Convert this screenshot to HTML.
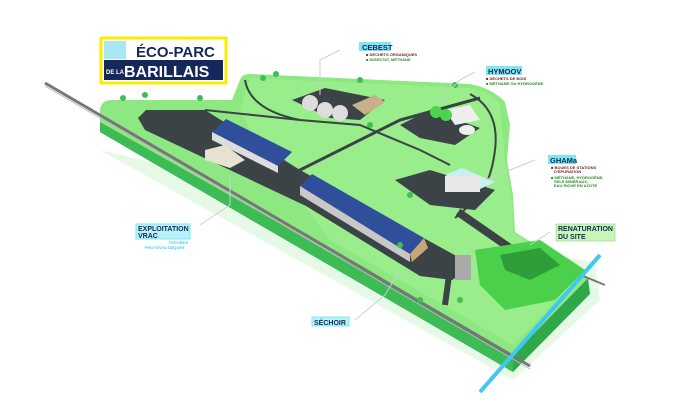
<!DOCTYPE html>
<html><head><meta charset="utf-8"><style>
html,body{margin:0;padding:0;background:#fff}
svg{display:block}
text{font-family:"Liberation Sans",sans-serif;font-weight:bold}
</style></head><body>
<svg width="700" height="400" viewBox="0 0 700 400" xmlns="http://www.w3.org/2000/svg">
<polygon points="100,150 513,380 600,300 595,262 520,250" fill="#e6f8e6"/>
<polygon points="100,112 100,132 513,372 590,294 588,278 513,355" fill="#2fa84a"/>
<polygon points="100,118 100,132 513,372 513,360" fill="#3dbb55"/>
<path d="M112,100 L232,100 L240,80 Q242,74 250,74 L470,84 Q492,88 505,102 L510,125 L507,160 L513,195 L515,232 L588,278 L513,355 L100,122 L100,112 Q100,100 112,100 Z" fill="#8ee882"/>
<path d="M250,78 L470,88 Q490,92 500,104 L505,160 L512,200 L513,232 L580,276 L513,345 L330,240 L300,200 L260,150 L240,110 Z" fill="#9ef08e" opacity="0.7"/>
<line x1="45" y1="83" x2="530" y2="366" stroke="#777" stroke-width="3"/>
<line x1="45" y1="86" x2="530" y2="369" stroke="#bbb" stroke-width="1"/>
<line x1="513" y1="247" x2="605" y2="285" stroke="#777" stroke-width="2"/>
<line x1="600" y1="255" x2="480" y2="392" stroke="#3fc9f2" stroke-width="4"/>
<polygon points="138,118 146,110 205,110 300,170 460,258 470,268 452,280 420,276 306,206 145,130" fill="#3b4346"/>
<path d="M245,80 Q250,110 300,120 L360,125 L420,150 L450,165" fill="none" stroke="#3b4346" stroke-width="2"/>
<path d="M205,110 L300,120" stroke="#3b4346" stroke-width="2"/>
<path d="M290,175 L400,120 L480,98" stroke="#3b4346" stroke-width="3" fill="none"/>
<path d="M470,94 Q500,110 495,150 Q490,190 470,205 L455,218" stroke="#3b4346" stroke-width="2" fill="none"/>
<path d="M450,268 L445,305" stroke="#3b4346" stroke-width="6"/>
<path d="M458,212 L520,255" stroke="#3b4346" stroke-width="8"/>
<polygon points="292,100 325,88 385,100 360,120 330,118" fill="#3b4346"/>
<circle cx="310" cy="103" r="8" fill="#ddd"/><circle cx="325" cy="110" r="8" fill="#ddd"/>
<circle cx="340" cy="113" r="8" fill="#ddd"/>
<polygon points="352,105 375,95 385,102 365,115" fill="#c9b08a"/>
<polygon points="400,125 430,110 480,128 455,145 420,138" fill="#3b4346"/>
<polygon points="445,110 470,105 480,120 455,125" fill="#eee"/>
<circle cx="436" cy="112" r="6" fill="#4cd44c"/><circle cx="446" cy="115" r="6" fill="#4cd44c"/>
<ellipse cx="467" cy="130" rx="8" ry="5" fill="#eee"/>
<polygon points="395,180 430,170 495,190 475,210 430,205" fill="#3b4346"/>
<polygon points="445,175 462,168 495,182 478,190" fill="#c8f0ee"/>
<rect x="445" y="176" width="35" height="16" fill="#e8e8e8"/>
<polygon points="212,132 226,119 292,152 278,166" fill="#2f4f9a"/>
<polygon points="212,132 278,166 278,173 212,140" fill="#ddd"/>
<polygon points="205,150 225,145 245,160 230,168 205,160" fill="#e8e0d0"/>
<polygon points="300,186 312,174 424,238 410,254" fill="#2f4f9a"/>
<polygon points="300,186 410,254 410,262 300,195" fill="#c8c8c8"/>
<polygon points="410,254 424,238 428,248 412,262" fill="#c9a57a"/>
<rect x="455" y="255" width="16" height="25" fill="#aaa"/>
<polygon points="475,250 540,240 585,270 555,300 505,310 480,285" fill="#4ad04a"/>
<polygon points="500,255 540,248 560,265 530,280 505,270" fill="#2f9e3a"/>
<g fill="#3fbf4f">
<circle cx="123" cy="98" r="3"/><circle cx="145" cy="95" r="3"/><circle cx="200" cy="98" r="3"/><circle cx="263" cy="78" r="3"/><circle cx="276" cy="74" r="3"/><circle cx="360" cy="80" r="3"/><circle cx="370" cy="125" r="3"/><circle cx="410" cy="195" r="3"/><circle cx="455" cy="85" r="3"/><circle cx="400" cy="245" r="3"/><circle cx="460" cy="300" r="3"/><circle cx="420" cy="300" r="3"/>
</g>
<g stroke="#c8d0d8" stroke-width="1" fill="none">
<polyline points="340,50 320,60 320,95"/><polyline points="475,72 460,80 440,100"/>
<polyline points="535,160 510,170 485,180"/><polyline points="550,232 530,245"/>
<polyline points="200,225 230,205 230,175"/><polyline points="355,320 385,295 400,270"/>
</g>
<rect x="101" y="38" width="125" height="45" fill="#fff"/>
<rect x="101" y="38" width="125" height="45" fill="none" stroke="#f5ee00" stroke-width="3"/>
<rect x="104" y="41" width="22" height="18" fill="#a8e8f2"/>
<rect x="104" y="60" width="119" height="20" fill="#14285a"/>
<text x="136" y="57" font-size="15" fill="#14285a" font-weight="normal">ÉCO-PARC</text>
<text x="106" y="74" font-size="6" fill="#fff">DE LA</text>
<text x="124" y="77" font-size="16" fill="#fff" font-weight="normal">BARILLAIS</text>
<rect x="359" y="42" width="32" height="9" fill="#7de8f2"/>
<text x="362" y="50" font-size="7.5" fill="#14285a">CEBEST</text>
<text x="366" y="56" font-size="4" fill="#7a2020">■ DÉCHETS ORGANIQUES</text>
<text x="366" y="61" font-size="4" fill="#2a8a2a">■ DIGESTAT, MÉTHANE</text>
<rect x="486" y="66" width="36" height="9" fill="#7de8f2"/>
<text x="488" y="74" font-size="7.5" fill="#14285a">HYMOOV</text>
<text x="486" y="80" font-size="4" fill="#7a2020">■ DÉCHETS DE BOIS</text>
<text x="486" y="85" font-size="4" fill="#2a8a2a">■ MÉTHANE OU HYDROGÈNE</text>
<rect x="548" y="155" width="28" height="9" fill="#7de8f2"/>
<text x="550" y="163" font-size="7.5" fill="#14285a">GHAMa</text>
<text x="551" y="169" font-size="4" fill="#7a2020">■ BOUES DE STATIONS</text>
<text x="554" y="173" font-size="4" fill="#7a2020">D'ÉPURATION</text>
<text x="551" y="179" font-size="4" fill="#2a8a2a">■ MÉTHANE, HYDROGÈNE,</text>
<text x="554" y="183" font-size="4" fill="#2a8a2a">SELS MINÉRAUX,</text>
<text x="554" y="187" font-size="4" fill="#2a8a2a">EAU RICHE EN AZOTE</text>
<rect x="556" y="224" width="59" height="17" fill="#c8f5b8" stroke="#7ed66a" stroke-width="0.5"/>
<text x="558" y="231" font-size="7" fill="#14285a">RENATURATION</text>
<text x="558" y="239" font-size="7" fill="#14285a">DU SITE</text>
<rect x="136" y="224" width="54" height="15" fill="#b8f2f6" stroke="#7de8f2"/>
<text x="138" y="231" font-size="7" fill="#14285a">EXPLOITATION</text>
<text x="138" y="238" font-size="7" fill="#14285a">VRAC</text>
<text x="168" y="244" font-size="4" fill="#3dd0e8">TOITURES</text>
<text x="145" y="249" font-size="4" fill="#3dd0e8">PHOTOVOLTAÏQUES</text>
<rect x="312" y="317" width="37" height="9" fill="#b8f2f6" stroke="#7de8f2"/>
<text x="314" y="325" font-size="7" fill="#14285a">SÉCHOIR</text>
</svg>
</body></html>
